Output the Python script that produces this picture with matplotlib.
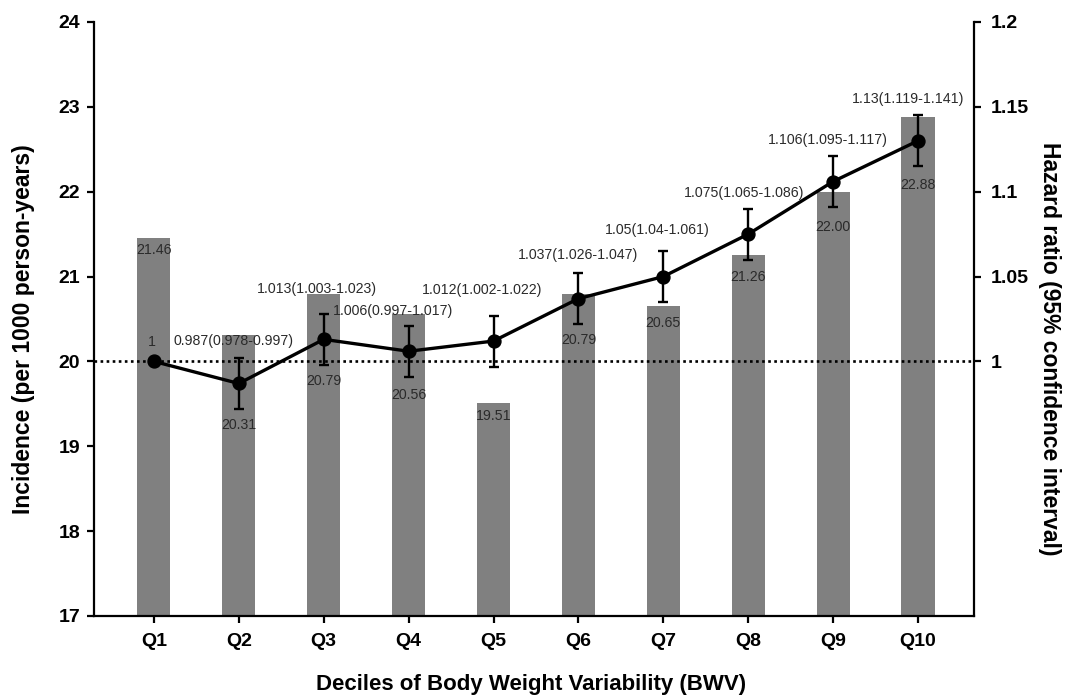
import numpy as np
import matplotlib
matplotlib.use("Agg")
import matplotlib.pyplot as plt

plt.rcParams['font.family'] = ['Liberation Sans', 'DejaVu Sans']

# ---- data ----
categories = ["Q1", "Q2", "Q3", "Q4", "Q5", "Q6", "Q7", "Q8", "Q9", "Q10"]
incidence = [21.46, 20.31, 20.79, 20.56, 19.51, 20.79, 20.65, 21.26, 22.00, 22.88]
incidence_labels = ["21.46", "20.31", "20.79", "20.56", "19.51", "20.79", "20.65", "21.26", "22.00", "22.88"]
hazard_ratio = [1.0, 0.987, 1.013, 1.006, 1.012, 1.037, 1.05, 1.075, 1.106, 1.13]
hr_err_lower = [0.0, 0.015, 0.015, 0.015, 0.015, 0.015, 0.015, 0.015, 0.015, 0.015]
hr_err_upper = [0.0, 0.015, 0.015, 0.015, 0.015, 0.015, 0.015, 0.015, 0.015, 0.015]
hr_labels = ["1", "0.987(0.978-0.997)", "1.013(1.003-1.023)", "1.006(0.997-1.017)",
             "1.012(1.002-1.022)", "1.037(1.026-1.047)", "1.05(1.04-1.061)",
             "1.075(1.065-1.086)", "1.106(1.095-1.117)", "1.13(1.119-1.141)"]
left_ticks = [17, 18, 19, 20, 21, 22, 23, 24]
right_ticks = [1.0, 1.05, 1.1, 1.15, 1.2]
right_tick_labels = ["1", "1.05", "1.1", "1.15", "1.2"]

# ---- layout (pixel offsets of annotations) ----
hr_label_dx = [-2, -5, -7, -16, -11, 0, -6, -4, -5, -10]
hr_label_dy = [19, 42, 50, 40, 51, 44, 47, 41, 42, 42]
bar_label_dy = [-12, -90, -87, -81, -13, -46, -17, -22, -35, -68]

W, H = 1073, 695
fig = plt.figure(figsize=(W / 100, H / 100), dpi=100)
left, right, top, bottom = 94, 974, 22, 616
ax = fig.add_axes([left / W, 1 - bottom / H, (right - left) / W, (bottom - top) / H])
ax2 = ax.twinx()

x = np.arange(len(categories))
bar_color = '#808080'
text_color = '#2a2a2a'

ax.bar(x, incidence, width=0.39, color=bar_color, zorder=1)
ax.axhline(20, color='black', lw=1.9, ls=(0, (1, 1.3)), zorder=2)

ax.set_xlim(-0.706, 9.66)
ax.set_ylim(17, 24)
ax.set_yticks(left_ticks)
ax.set_xticks(x)
ax.set_xticklabels(categories)

for i, (v, lab) in enumerate(zip(incidence, incidence_labels)):
    ax.annotate(lab, (x[i], v), xytext=(0, bar_label_dy[i]), textcoords='offset pixels',
                ha='center', va='center', fontsize=10.2, color=text_color, zorder=3)

ax2.set_ylim(0.85, 1.2)
ax2.set_yticks(right_ticks)
ax2.set_yticklabels(right_tick_labels)

ax2.plot(x, hazard_ratio, color='black', lw=2.4, marker='o', ms=9.3, zorder=5)
xe = x[1:]
ax2.errorbar(xe, hazard_ratio[1:], yerr=[hr_err_lower[1:], hr_err_upper[1:]], fmt='none',
             ecolor='black', elinewidth=1.7, capsize=3.8, capthick=1.7, zorder=4)

for i, lab in enumerate(hr_labels):
    ax2.annotate(lab, (x[i], hazard_ratio[i]), xytext=(hr_label_dx[i], hr_label_dy[i]),
                 textcoords='offset pixels', ha='center', va='center', fontsize=10.2,
                 color=text_color, zorder=6)

for a in (ax, ax2):
    a.spines['top'].set_visible(False)
    for s in a.spines.values():
        s.set_linewidth(1.6)
ax.spines['right'].set_visible(False)
ax2.spines['left'].set_visible(False)
ax2.spines['bottom'].set_visible(False)

ax.tick_params(axis='y', direction='out', length=5, width=1.6, labelsize=14, pad=5)
ax.tick_params(axis='x', direction='out', length=5, width=1.6, labelsize=14, pad=7)
ax2.tick_params(axis='y', direction='out', length=5, width=1.6, labelsize=14, pad=7)
for lab in ax.get_yticklabels() + ax.get_xticklabels() + ax2.get_yticklabels():
    lab.set_fontweight('bold')

axw, axh = right - left, bottom - top
ax.set_ylabel("Incidence (per 1000 person-years)", fontsize=16.5, fontweight='bold', va='center')
ax.yaxis.set_label_coords((24 - left) / axw, (bottom - 329) / axh)
ax.set_xlabel("Deciles of Body Weight Variability (BWV)", fontsize=16, fontweight='bold', va='baseline')
ax.xaxis.set_label_coords((531 - left) / axw, (bottom - 690) / axh)
ax2.set_ylabel("Hazard ratio (95% confidence interval)", fontsize=16.5, fontweight='bold',
               rotation=270, va='center')
ax2.yaxis.set_label_coords((1049 - left) / axw, (bottom - 349) / axh)

fig.savefig("out.png", dpi=100)
